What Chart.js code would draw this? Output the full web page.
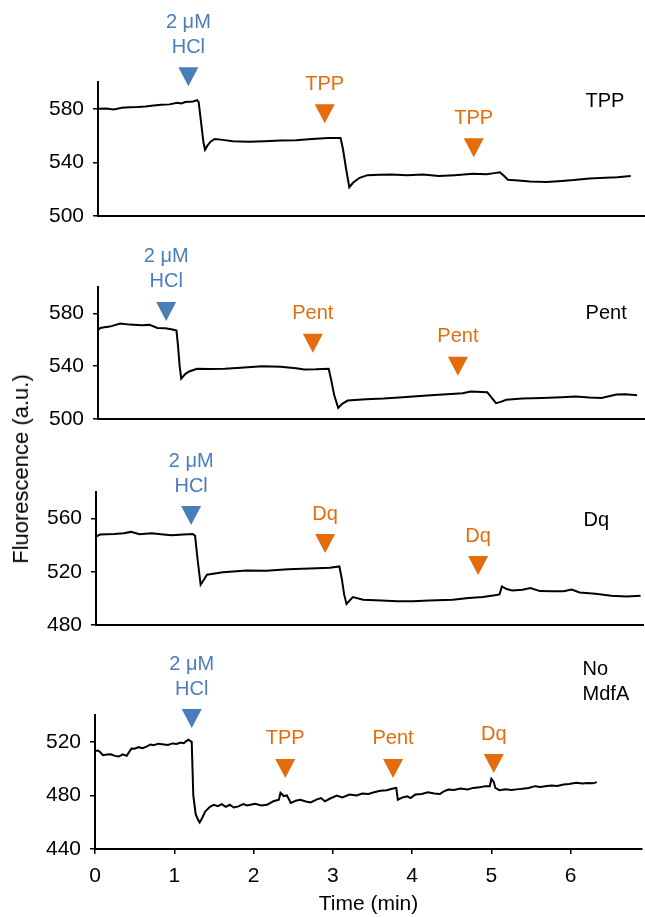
<!DOCTYPE html>
<html>
<head>
<meta charset="utf-8">
<script src="https://cdn.jsdelivr.net/npm/chart.js@4/dist/chart.umd.min.js"></script>
<style>
  body { margin: 0; background: #fff; }
  #wrap { position: relative; width: 645px; height: 917px; }
  canvas { position: absolute; left: 0; }
  #ylab { position: absolute; left: 21px; top: 469px; transform: translate(-50%, -50%) rotate(-90deg);
          font: 22px "Liberation Sans", Arial, sans-serif; white-space: nowrap; color: #000; }
</style>
</head>
<body>
<div id="wrap">
  <canvas id="c1" width="645" height="228" style="top:0px"></canvas>
  <canvas id="c2" width="645" height="202" style="top:228px"></canvas>
  <canvas id="c3" width="645" height="205" style="top:430px"></canvas>
  <canvas id="c4" width="645" height="282" style="top:635px"></canvas>
  <div id="ylab">Fluorescence (a.u.)</div>
</div>
<script>
// --- data (time in min, fluorescence in a.u.) ---
const tppTime = [0, 0.1, 0.2, 0.3, 0.4, 0.5, 0.6, 0.7, 0.8, 0.9, 1.0, 1.05, 1.1, 1.2, 1.25, 1.27, 1.30, 1.33, 1.35, 1.38, 1.42, 1.47, 1.55, 1.7, 1.9, 2.1, 2.3, 2.5, 2.7, 2.9, 3.06, 3.09, 3.13, 3.17, 3.22, 3.3, 3.4, 3.55, 3.7, 3.9, 4.1, 4.3, 4.5, 4.73, 4.9, 5.0, 5.07, 5.12, 5.17, 5.3, 5.45, 5.66, 5.85, 6.0, 6.2, 6.4, 6.55, 6.72];
const tppVal  = [580, 580.2, 579.5, 580.8, 581.2, 581.3, 581.8, 582.5, 583, 583.3, 584.5, 584, 585, 585.5, 586.5, 585, 570, 555, 549.5, 552.5, 555.5, 557.5, 557, 555.8, 555.5, 555.8, 556.3, 556.5, 557.5, 558.2, 558.2, 550, 535, 521.5, 525, 528.5, 530.5, 530.8, 531, 530.5, 531, 529.8, 530.5, 531.6, 531.2, 532, 532.6, 530, 527, 526.5, 525.8, 525.4, 526.2, 526.8, 527.9, 528.5, 529, 529.8];

const pentTime = [0, 0.03, 0.08, 0.15, 0.28, 0.4, 0.55, 0.65, 0.75, 0.85, 0.94, 0.99, 1.01, 1.03, 1.05, 1.1, 1.15, 1.25, 1.4, 1.6, 1.8, 2.07, 2.3, 2.5, 2.6, 2.75, 2.91, 2.94, 2.98, 3.03, 3.08, 3.15, 3.38, 3.6, 3.8, 4.02, 4.2, 4.45, 4.6, 4.7, 4.91, 4.94, 5.02, 5.08, 5.15, 5.35, 5.6, 5.85, 6.02, 6.2, 6.35, 6.54, 6.65, 6.8];
const pentVal  = [567.5, 569, 569.5, 570, 572.3, 571.5, 571, 571.3, 569, 568.8, 567.8, 567, 555, 540, 530.6, 534, 536, 538, 537.8, 538, 538.8, 540, 539.5, 538.5, 537.5, 537.6, 538, 530, 518, 508.4, 511.5, 514, 515, 515.5, 516.3, 517.2, 518, 519, 519.5, 520.8, 520.2, 518, 512, 513, 514.5, 515.5, 516, 516.5, 517, 516.2, 516, 518.5, 518.8, 518];

const dqTime = [0, 0.05, 0.23, 0.35, 0.44, 0.55, 0.7, 0.85, 0.96, 1.1, 1.22, 1.25, 1.28, 1.32, 1.36, 1.4, 1.6, 1.9, 2.15, 2.42, 2.7, 2.95, 3.07, 3.1, 3.13, 3.16, 3.24, 3.37, 3.6, 3.8, 4.0, 4.2, 4.5, 4.7, 4.88, 5.03, 5.09, 5.12, 5.18, 5.25, 5.38, 5.48, 5.6, 5.75, 5.9, 6.0, 6.1, 6.3, 6.5, 6.69, 6.87];
const dqVal  = [546.5, 548, 548.4, 549, 550, 548.2, 549, 548, 547.4, 548, 548.4, 547, 530, 510.3, 514, 517.8, 519.6, 520.9, 520.8, 522, 522.5, 523, 524, 515, 503, 495.8, 501, 499, 498.5, 497.8, 497.8, 498.5, 499, 500.3, 501, 502.3, 503, 509, 507, 506, 506.5, 507.8, 505.5, 505.3, 505.3, 506.6, 504.5, 503.5, 502, 501.5, 502];

const noTime = [0, 0.04, 0.07, 0.1, 0.15, 0.2, 0.25, 0.3, 0.35, 0.4, 0.46, 0.5, 0.55, 0.6, 0.65, 0.7, 0.74, 0.8, 0.87, 0.92, 0.98, 1.03, 1.08, 1.12, 1.15, 1.18, 1.2, 1.22, 1.23, 1.24, 1.27, 1.30, 1.32, 1.35, 1.39, 1.45, 1.5, 1.55, 1.6, 1.65, 1.7, 1.75, 1.81, 1.87, 1.92, 2.02, 2.1, 2.17, 2.25, 2.32, 2.34, 2.38, 2.42, 2.47, 2.53, 2.59, 2.66, 2.72, 2.8, 2.85, 2.9, 2.96, 3.05, 3.12, 3.21, 3.3, 3.37, 3.45, 3.52, 3.6, 3.68, 3.76, 3.8, 3.82, 3.88, 3.94, 3.98, 4.04, 4.12, 4.2, 4.28, 4.35, 4.4, 4.46, 4.53, 4.61, 4.7, 4.77, 4.85, 4.92, 4.98, 5.0, 5.03, 5.05, 5.1, 5.18, 5.25, 5.32, 5.39, 5.47, 5.55, 5.62, 5.7, 5.76, 5.83, 5.91, 5.98, 6.07, 6.15, 6.22, 6.28, 6.33];
const noVal  = [513.2, 513.5, 512, 510, 510.5, 510.7, 509.5, 509, 510.7, 509.5, 515, 514.8, 516, 515.2, 516.4, 518, 517.4, 518.6, 518, 517.6, 518.8, 518.4, 519.5, 519, 520.5, 521.5, 520.7, 520, 500, 480, 466, 461.8, 459.8, 463, 468, 471.5, 473, 472, 473.5, 471.5, 473, 471, 471.8, 473.5, 472.5, 473.8, 472.5, 473, 475.6, 476.8, 481.9, 479.5, 480, 474.3, 476, 476.8, 475.5, 474.8, 477, 478, 475.6, 477.5, 479.8, 478.5, 480.6, 480, 481.4, 481, 482.4, 483.5, 483.9, 485.1, 485.6, 476.8, 478.5, 479.3, 478, 480.6, 481, 482.4, 481.4, 481, 483, 484.4, 484, 485.1, 484.5, 485.6, 486, 486.9, 486.9, 492.4, 490, 485.6, 483.9, 484.5, 484, 484.5, 484.9, 485.5, 486.9, 486.3, 487, 487.4, 487, 488.1, 488.5, 489.4, 488.8, 489.2, 489, 489.9];

// tick values and labels
const xTicks = [0, 1, 2, 3, 4, 5, 6];
const yTicksTpp = [500, 520, 540, 560, 580, 600], yLabTpp = [500, 540, 580];
const yTicksPent = [500, 520, 540, 560, 580, 600], yLabPent = [500, 540, 580];
const yTicksDq = [480, 500, 520, 540, 560, 580], yLabDq = [480, 520, 560];
const yTicksNo = [440, 460, 480, 500, 520, 540], yLabNo = [440, 480, 520];

// additions: time of arrow, level of arrow tip, label lines
const BLUE = '#4a7ebb', ORANGE = '#e46c0a';
const hcl = ['2 \u03bcM', 'HCl'];
const tppNotes = [
  { t: 1.14, tip: 596.8, text: hcl, color: BLUE },
  { t: 2.86, tip: 569.2, text: ['TPP'], color: ORANGE },
  { t: 4.74, tip: 543.8, text: ['TPP'], color: ORANGE }
];
const pentNotes = [
  { t: 0.86, tip: 574.3, text: hcl, color: BLUE },
  { t: 2.71, tip: 550.1, text: ['Pent'], color: ORANGE },
  { t: 4.54, tip: 532.7, text: ['Pent'], color: ORANGE }
];
const dqNotes = [
  { t: 1.20, tip: 555.1, text: hcl, color: BLUE },
  { t: 2.89, tip: 534.1, text: ['Dq'], color: ORANGE },
  { t: 4.82, tip: 517.6, text: ['Dq'], color: ORANGE }
];
const noNotes = [
  { t: 1.22, tip: 530.3, text: hcl, color: BLUE },
  { t: 2.40, tip: 493, text: ['TPP'], color: ORANGE },
  { t: 3.76, tip: 493, text: ['Pent'], color: ORANGE },
  { t: 5.03, tip: 496.7, text: ['Dq'], color: ORANGE }
];

const FONT = '"Liberation Sans", Arial, sans-serif';
const font = { family: FONT, size: 21 };

// draws the arrows, their labels and the panel name
function marks(notes, side) {
  return {
    id: 'marks',
    afterDraw(chart) {
      const ctx = chart.ctx, xs = chart.scales.x, ys = chart.scales.y;
      ctx.save();
      ctx.font = '20px ' + FONT;
      ctx.textBaseline = 'middle';
      ctx.textAlign = 'center';
      notes.forEach(n => {
        const x = xs.getPixelForValue(n.t), tip = ys.getPixelForValue(n.tip);
        ctx.fillStyle = n.color;
        ctx.beginPath();
        ctx.moveTo(x - 10, tip - 19);
        ctx.lineTo(x + 10, tip - 19);
        ctx.lineTo(x, tip);
        ctx.closePath();
        ctx.fill();
        n.text.forEach((s, i) => ctx.fillText(s, x, tip - 39 - (n.text.length - 1 - i) * 25));
      });
      ctx.fillStyle = '#000';
      ctx.textAlign = 'left';
      const sx = xs.getPixelForValue(side.t), sy = ys.getPixelForValue(side.v);
      side.text.forEach((s, i) => ctx.fillText(s, sx, sy + i * 25));
      ctx.restore();
    }
  };
}

function panel(id, time, vals, yTicks, yLab, notes, side, p) {
  const x = {
    type: 'linear', min: 0, max: 6.9,
    border: { color: '#000', width: 2 },
    afterFit: s => { s.height = p.xHeight; s.paddingLeft = 0; s.paddingRight = 0; }
  };
  if (p.bottom) {
    Object.assign(x, {
      afterBuildTicks: s => { s.ticks = xTicks.map(v => ({ value: v })); },
      ticks: { font, color: '#000', padding: 10, maxRotation: 0 },
      grid: { drawOnChartArea: false, tickLength: 5, color: '#000', lineWidth: 1.5 },
      title: { display: true, text: 'Time (min)', font, color: '#000', padding: 0 }
    });
  } else {
    x.ticks = { display: false };
    x.grid = { display: false };
  }
  return new Chart(document.getElementById(id), {
    type: 'line',
    data: {
      datasets: [{
        data: time.map((t, i) => ({ x: t, y: vals[i] })),
        borderColor: '#000',
        borderWidth: 2,
        pointRadius: 0,
        tension: 0
      }]
    },
    options: {
      responsive: false,
      animation: false,
      devicePixelRatio: 1,
      events: [],
      layout: { padding: { left: 0, right: 645 - p.left - 547, top: p.top, bottom: p.padBottom } },
      plugins: { legend: { display: false }, tooltip: { enabled: false } },
      scales: {
        x,
        y: {
          min: yTicks[0], max: yTicks[yTicks.length - 1],
          afterFit: s => { s.width = p.left; s.paddingTop = 0; s.paddingBottom = 0; },
          afterBuildTicks: s => { s.ticks = yTicks.map(v => ({ value: v })); },
          ticks: { font, color: '#000', padding: 9, callback: v => yLab.includes(v) ? String(v) : '' },
          grid: { drawOnChartArea: false, tickLength: 5, color: '#000', lineWidth: 1.5 },
          border: { color: '#000', width: 2 }
        }
      }
    },
    plugins: [marks(notes, side)]
  });
}

panel('c1', tppTime, tppVal, yTicksTpp, yLabTpp, tppNotes, { t: 6.15, v: 585.6, text: ['TPP'] },
  { left: 98, top: 82, padBottom: 12, xHeight: 0 });
panel('c2', pentTime, pentVal, yTicksPent, yLabPent, pentNotes, { t: 6.15, v: 580.3, text: ['Pent'] },
  { left: 98, top: 59, padBottom: 11, xHeight: 0 });
panel('c3', dqTime, dqVal, yTicksDq, yLabDq, dqNotes, { t: 6.15, v: 558.8, text: ['Dq'] },
  { left: 96, top: 62, padBottom: 10, xHeight: 0 });
panel('c4', noTime, noVal, yTicksNo, yLabNo, noNotes, { t: 6.15, v: 574.3, text: ['No', 'MdfA'] },
  { left: 95, top: 80, padBottom: 0, xHeight: 68, bottom: true });
</script>
</body>
</html>
